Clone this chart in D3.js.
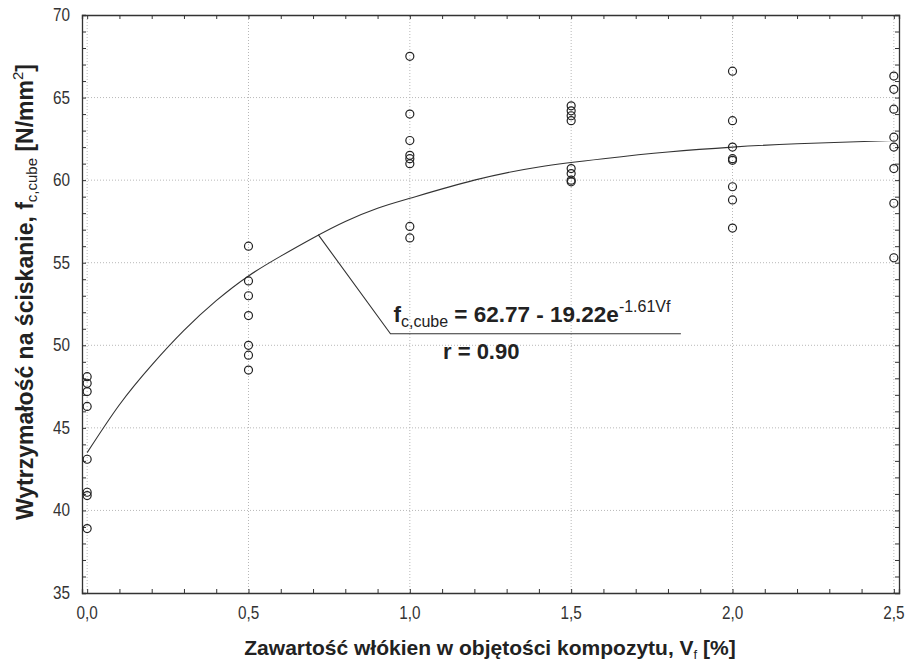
<!DOCTYPE html>
<html>
<head>
<meta charset="utf-8">
<script src="https://cdn.jsdelivr.net/npm/d3@7"></script>
<style>
  body { margin: 0; background: #fff; }
  text { font-family: "Liberation Sans", Arial, sans-serif; }
</style>
</head>
<body>
<div id="chart"></div>
<script>
// fibre content Vf [%] and cube strength values, grouped per dosage
var vf0 = [48.1, 47.7, 47.2, 46.3, 43.1, 41.1, 40.9, 38.9];
var vf05 = [56.0, 53.9, 53.0, 51.8, 50.0, 49.4, 48.5];
var vf10 = [67.5, 64.0, 62.4, 61.5, 61.3, 61.0, 57.2, 56.5];
var vf15 = [64.5, 64.2, 63.9, 63.6, 60.7, 60.4, 60.0, 59.9];
var vf20 = [66.6, 63.6, 62.0, 61.3, 61.2, 59.6, 58.8, 57.1];
var vf25 = [66.3, 65.5, 64.3, 62.6, 62.0, 60.7, 58.6, 55.3];
var groups = [[0, vf0], [0.5, vf05], [1.0, vf10], [1.5, vf15], [2.0, vf20], [2.5, vf25]];

// fitted curve
var curveX = [0, 0.1, 0.2, 0.3, 0.4, 0.5, 0.6, 0.7, 0.8, 0.9, 1.0, 1.2, 1.4, 1.6, 1.8, 2.0, 2.2, 2.5];
var curveY = [43.5, 46.4, 48.8, 50.9, 52.7, 54.2, 55.4, 56.5, 57.5, 58.3, 58.9, 60.0, 60.8, 61.3, 61.7, 62.0, 62.2, 62.4];

var xTicks = [0, 0.5, 1.0, 1.5, 2.0, 2.5];
var xTickLabels = ["0,0", "0,5", "1,0", "1,5", "2,0", "2,5"];
var yTicks = [35, 40, 45, 50, 55, 60, 65, 70];

// leader line of the equation (data coords)
var leader = [[0.716, 56.7], [0.94, 50.7], [1.84, 50.7]];

var W = 910, H = 661;
var x = d3.scaleLinear().domain([-0.016, 2.516]).range([82, 899]);
var y = d3.scaleLinear().domain([35, 70]).range([593, 15]);

var svg = d3.select("#chart").append("svg")
  .attr("width", W)
  .attr("height", H);

// grid
svg.append("g")
  .selectAll("line")
  .data(yTicks.slice(1, -1))
  .join("line")
  .attr("x1", x.range()[0]).attr("x2", x.range()[1])
  .attr("y1", d => y(d)).attr("y2", d => y(d))
  .attr("stroke", "#b8b8b8").attr("stroke-dasharray", "1,2");

svg.append("g")
  .selectAll("line")
  .data(xTicks)
  .join("line")
  .attr("x1", d => x(d)).attr("x2", d => x(d))
  .attr("y1", y.range()[0]).attr("y2", y.range()[1])
  .attr("stroke", "#b8b8b8").attr("stroke-dasharray", "1,2");

// axes with inward ticks on all four sides
var tl = 4;
var xMinor = d3.range(0, 2.51, 0.1);
var yMinor = d3.range(35, 70.1, 1);

svg.append("g")
  .attr("transform", "translate(0," + y.range()[0] + ")")
  .call(d3.axisTop(x).tickValues(xMinor).tickSize(tl).tickFormat(""));
svg.append("g")
  .attr("transform", "translate(0," + y.range()[1] + ")")
  .call(d3.axisBottom(x).tickValues(xMinor).tickSize(tl).tickFormat(""));
svg.append("g")
  .attr("transform", "translate(" + x.range()[0] + ",0)")
  .call(d3.axisRight(y).tickValues(yMinor).tickSize(tl).tickFormat(""));
svg.append("g")
  .attr("transform", "translate(" + x.range()[1] + ",0)")
  .call(d3.axisLeft(y).tickValues(yMinor).tickSize(tl).tickFormat(""));

svg.selectAll(".domain").attr("stroke", "#333").attr("stroke-width", 1.3);
svg.selectAll(".tick line").attr("stroke", "#333");

// tick labels (slightly condensed like the original)
svg.append("g")
  .selectAll("text")
  .data(yTicks)
  .join("text")
  .attr("transform", d => "translate(70," + (y(d) + 6) + ") scale(0.85,1)")
  .attr("text-anchor", "end")
  .attr("font-size", 18)
  .attr("fill", "#333")
  .text(d => d);

svg.append("g")
  .selectAll("text")
  .data(xTicks)
  .join("text")
  .attr("transform", d => "translate(" + x(d) + ",619) scale(0.85,1)")
  .attr("text-anchor", "middle")
  .attr("font-size", 18)
  .attr("fill", "#333")
  .text((d, i) => xTickLabels[i]);

// fitted curve
var line = d3.line()
  .x(d => x(d[0]))
  .y(d => y(d[1]))
  .curve(d3.curveNatural);

svg.append("path")
  .datum(curveX.map((v, i) => [v, curveY[i]]))
  .attr("fill", "none")
  .attr("stroke", "#333")
  .attr("stroke-width", 1.1)
  .attr("d", line);

// points
var pts = [];
groups.forEach(g => g[1].forEach(v => pts.push([g[0], v])));

svg.append("g")
  .selectAll("circle")
  .data(pts)
  .join("circle")
  .attr("cx", d => x(d[0]))
  .attr("cy", d => y(d[1]))
  .attr("r", 4)
  .attr("fill", "none")
  .attr("stroke", "#222")
  .attr("stroke-width", 1.2);

// equation annotation
svg.append("path")
  .datum(leader)
  .attr("fill", "none")
  .attr("stroke", "#333")
  .attr("stroke-width", 1.1)
  .attr("d", d3.line().x(d => x(d[0])).y(d => y(d[1])));

var eq = svg.append("text")
  .attr("x", x(leader[1][0]) + 3)
  .attr("y", y(leader[1][1]) - 12)
  .attr("font-size", 22.5)
  .attr("font-weight", "bold")
  .attr("fill", "#222");
eq.append("tspan").text("f");
eq.append("tspan").attr("font-size", 16).attr("font-weight", "normal").attr("dy", 5).text("c,cube");
eq.append("tspan").attr("dy", -5).text(" = 62.77 - 19.22e");
eq.append("tspan").attr("font-size", 16).attr("font-weight", "normal").attr("dy", -10).text("-1.61Vf");

svg.append("text")
  .attr("x", 443)
  .attr("y", y(leader[1][1]) + 25)
  .attr("font-size", 22)
  .attr("font-weight", "bold")
  .attr("fill", "#222")
  .text("r = 0.90");

// axis titles
var xt = svg.append("text")
  .attr("x", 490)
  .attr("y", 655)
  .attr("text-anchor", "middle")
  .attr("font-size", 21)
  .attr("font-weight", "bold")
  .attr("fill", "#222");
xt.append("tspan").text("Zawartość włókien w objętości kompozytu, V");
xt.append("tspan").attr("font-size", 13).attr("font-weight", "normal").attr("dy", 4).text("f");
xt.append("tspan").attr("dy", -4).text(" [%]");

var yt = svg.append("text")
  .attr("transform", "translate(33," + 292 + ") rotate(-90)")
  .attr("text-anchor", "middle")
  .attr("font-size", 23)
  .attr("font-weight", "bold")
  .attr("fill", "#222");
yt.append("tspan").text("Wytrzymałość na ściskanie, f");
yt.append("tspan").attr("font-size", 15).attr("font-weight", "normal").attr("dy", 4).text("c,cube");
yt.append("tspan").attr("dy", -4).text(" [N/mm");
yt.append("tspan").attr("font-size", 15).attr("font-weight", "normal").attr("dy", -10).text("2");
yt.append("tspan").attr("dy", 10).text("]");
</script>
</body>
</html>
